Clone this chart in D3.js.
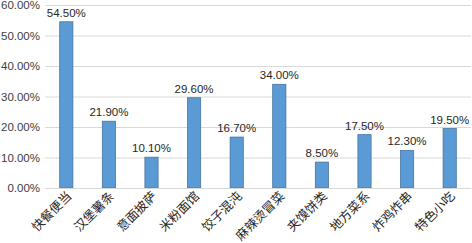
<!DOCTYPE html>
<html>
<head>
<meta charset="utf-8">
<script src="https://cdn.jsdelivr.net/npm/d3@7"></script>
<style>
  body { margin: 0; background: #fff; }
  svg { display: block; }
</style>
</head>
<body>
<div id="chart"></div>
<script>
const width = 472;
const height = 243;

// Données
const categories = ["快餐便当", "汉堡薯条", "意面披萨", "米粉面馆", "饺子混沌",
                    "麻辣烫冒菜", "夹馍饼类", "地方菜系", "炸鸡炸串", "特色小吃"];
const values = [54.5, 21.9, 10.1, 29.6, 16.7, 34.0, 8.5, 17.5, 12.3, 19.5];
const yTicks = [0, 10, 20, 30, 40, 50, 60];

const margin = {top: 5, right: 1, bottom: 55, left: 45};

const x = d3.scaleBand()
    .domain(categories)
    .range([margin.left, width - margin.right])
    .paddingInner(0.69)
    .paddingOuter(0.345);

const y = d3.scaleLinear()
    .domain([0, 60])
    .range([height - margin.bottom, margin.top]);

const svg = d3.select("#chart")
    .append("svg")
    .attr("width", width)
    .attr("height", height)
    .attr("viewBox", `0 0 ${width} ${height}`);

// Grille et axe y
const yAxis = svg.append("g")
    .attr("transform", `translate(${margin.left},0)`)
    .call(d3.axisLeft(y)
        .tickValues(yTicks)
        .tickSize(-(width - margin.left - margin.right))
        .tickPadding(5)
        .tickFormat(d => d.toFixed(2) + "%"));
yAxis.select(".domain").remove();
yAxis.selectAll(".tick line").attr("stroke", "#d9d9d9").attr("stroke-width", 1);
yAxis.selectAll(".tick text")
    .attr("fill", "#404040")
    .style("font-family", "'Liberation Sans', Arial, sans-serif")
    .style("font-size", "11.5px");

// Barres
svg.append("g")
    .selectAll("rect")
    .data(values)
    .join("rect")
    .attr("x", (d, i) => x(categories[i]))
    .attr("y", d => y(d))
    .attr("width", x.bandwidth())
    .attr("height", d => y(0) - y(d))
    .attr("fill", "#5b9bd5")
    .attr("stroke", "#41719c")
    .attr("stroke-width", 0.75);

// Étiquettes de valeur
svg.append("g")
    .selectAll("text")
    .data(values)
    .join("text")
    .attr("x", (d, i) => x(categories[i]) + x.bandwidth() / 2)
    .attr("y", d => y(d) - 5)
    .attr("text-anchor", "middle")
    .attr("fill", "#262626")
    .style("font-family", "'Liberation Sans', Arial, sans-serif")
    .style("font-size", "11.5px")
    .text(d => d.toFixed(2) + "%");

// Axe x
const xAxis = svg.append("g")
    .attr("transform", `translate(0,${y(0)})`)
    .call(d3.axisBottom(x).tickSize(0).tickPadding(0));
xAxis.select(".domain").attr("stroke", "#d9d9d9");
xAxis.selectAll(".tick text")
    .attr("fill", "#262626")
    .attr("text-anchor", "end")
    .attr("dy", null)
    .attr("transform", "translate(6,9) rotate(-45)")
    .style("font-family", "'Noto Sans CJK SC', sans-serif")
    .style("font-size", "12.5px");
</script>
</body>
</html>
